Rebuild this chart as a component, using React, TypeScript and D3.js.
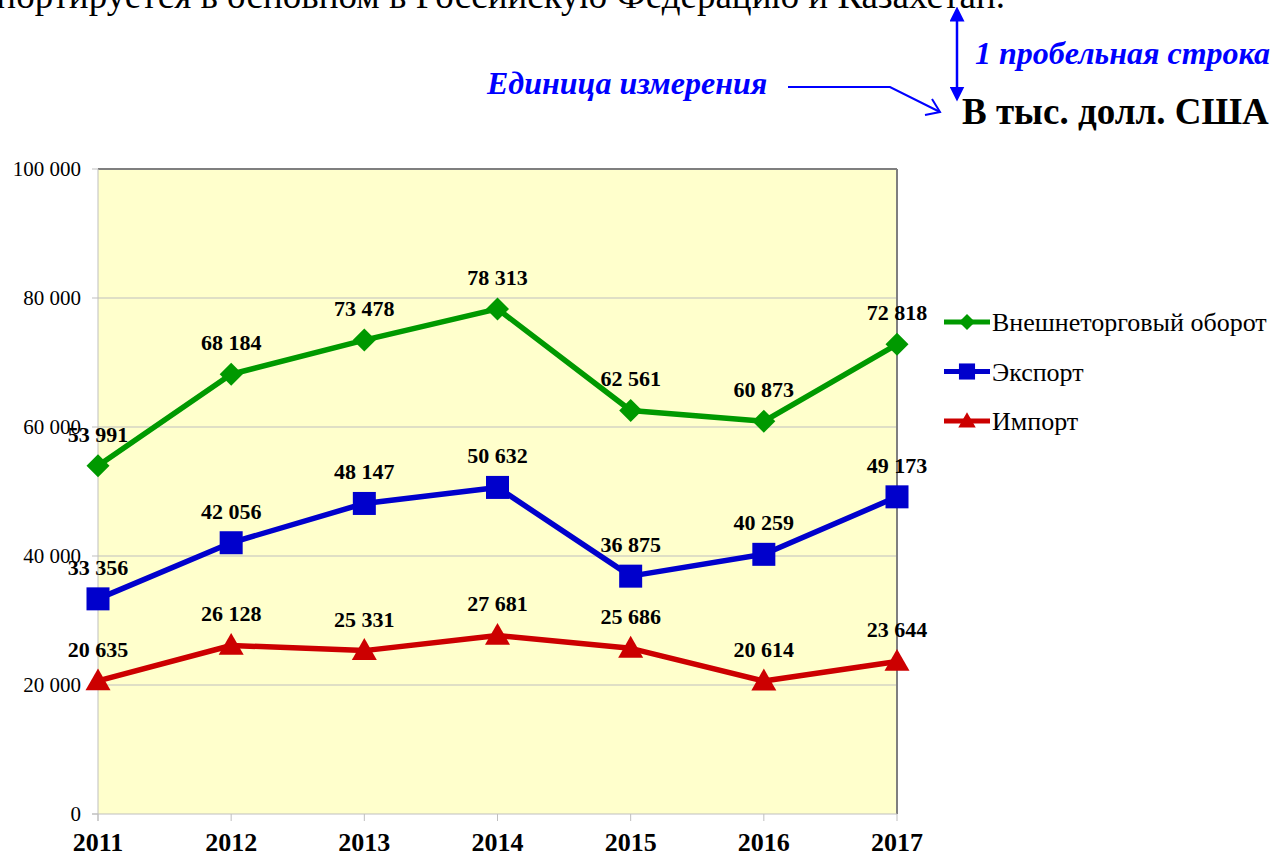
import React from "react";
import * as d3 from "d3";

const years = ["2011", "2012", "2013", "2014", "2015", "2016", "2017"];
const turnover = [53991, 68184, 73478, 78313, 62561, 60873, 72818];
const exportVals = [33356, 42056, 48147, 50632, 36875, 40259, 49173];
const importVals = [20635, 26128, 25331, 27681, 25686, 20614, 23644];
const yTicks = [0, 20000, 40000, 60000, 80000, 100000];
const seriesNames = ["Внешнеторговый оборот", "Экспорт", "Импорт"];

const W = 1273;
const H = 854;
const left = 98, right = 897, top = 169, bottom = 814;

const fmt = (v: number) => d3.format(",")(v).replace(/,/g, " ");

export default function App() {
  const x = d3.scalePoint<string>().domain(years).range([left, right]);
  const y = d3.scaleLinear().domain([0, 100000]).range([bottom, top]);

  const series = [
    { name: seriesNames[0], values: turnover, color: "#009900", marker: "diamond" },
    { name: seriesNames[1], values: exportVals, color: "#0000CC", marker: "square" },
    { name: seriesNames[2], values: importVals, color: "#CC0000", marker: "triangle" },
  ];

  const line = d3
    .line<number>()
    .x((_, i) => x(years[i]) as number)
    .y((d) => y(d));

  const marker = (type: string, cx: number, cy: number, color: string, s = 1) => {
    if (type === "diamond") {
      const r = 11.5 * s;
      return <path d={`M${cx},${cy - r}L${cx + r},${cy}L${cx},${cy + r}L${cx - r},${cy}Z`} fill={color} />;
    }
    if (type === "square") {
      const r = 11.5 * s;
      return <rect x={cx - r} y={cy - r} width={2 * r} height={2 * r} fill={color} />;
    }
    const r = 12.5 * s;
    return <path d={`M${cx},${cy - r}L${cx + r},${cy + r * 0.75}L${cx - r},${cy + r * 0.75}Z`} fill={color} />;
  };

  const serif = "'Liberation Serif', 'Times New Roman', serif";

  return (
    <svg width={W} height={H} style={{ position: "absolute", left: 0, top: 0, display: "block" }}>
      <defs>
        <marker id="ahFill" viewBox="0 0 10 10" refX="5" refY="5" markerWidth="6" markerHeight="6" orient="auto-start-reverse">
          <path d="M0,0L10,5L0,10Z" fill="#0000FF" />
        </marker>
      </defs>
      <rect x={0} y={0} width={W} height={H} fill="#fff" />
      {/* top cut-off paragraph text */}
      <text x={1005} y={8} textAnchor="end" fontFamily={serif} fontSize={37} fill="#000">
        экспортируется в основном в Российскую Федерацию и Казахстан.
      </text>
      {/* annotations */}
      <line x1={957} y1={14} x2={957} y2={94} stroke="#0000FF" strokeWidth={2.5}
        markerStart="url(#ahFill)" markerEnd="url(#ahFill)" />
      <text x={975} y={64} fontFamily={serif} fontSize={32} fontWeight="bold" fontStyle="italic" fill="#0000FF">
        1 пробельная строка
      </text>
      <text x={487} y={94} fontFamily={serif} fontSize={32} fontWeight="bold" fontStyle="italic" fill="#0000FF">
        Единица измерения
      </text>
      <polyline points="788,87 890,87 940,112" fill="none" stroke="#0000FF" strokeWidth={2} />
      <polyline points="925,115 940,112 932,99" fill="none" stroke="#0000FF" strokeWidth={2} />
      <text x={962} y={124} fontFamily={serif} fontSize={37} fontWeight="bold" fill="#000">
        В тыс. долл. США
      </text>

      {/* plot area */}
      <rect x={left} y={top} width={right - left} height={bottom - top} fill="#FFFFCC" />
      {yTicks.slice(1).map((t) => (
        <line key={t} x1={left} x2={right} y1={y(t)} y2={y(t)} stroke="#BFBFBF" strokeWidth={1} />
      ))}
      <line x1={left} x2={right} y1={top} y2={top} stroke="#7F7F7F" strokeWidth={2} />
      <line x1={right} x2={right} y1={top} y2={bottom} stroke="#7F7F7F" strokeWidth={2} />
      <line x1={left} x2={left} y1={top} y2={bottom + 7} stroke="#BFBFBF" strokeWidth={1} />
      <line x1={left - 6} x2={right} y1={bottom} y2={bottom} stroke="#BFBFBF" strokeWidth={1} />
      {yTicks.map((t) => (
        <g key={t}>
          <line x1={left - 6} x2={left} y1={y(t)} y2={y(t)} stroke="#BFBFBF" />
          <text x={81} y={y(t) + 7} textAnchor="end" fontFamily={serif} fontSize={21} fill="#000">
            {fmt(t)}
          </text>
        </g>
      ))}
      {years.map((yr) => (
        <g key={yr}>
          <line x1={x(yr)} x2={x(yr)} y1={bottom} y2={bottom + 7} stroke="#BFBFBF" />
          <text x={x(yr)} y={851} textAnchor="middle" fontFamily={serif} fontSize={26} fontWeight="bold" fill="#000">
            {yr}
          </text>
        </g>
      ))}

      {series.map((s) => (
        <g key={s.name}>
          <path d={line(s.values) || ""} fill="none" stroke={s.color} strokeWidth={5.5} strokeLinejoin="round" />
          {s.values.map((v, i) => (
            <g key={i}>{marker(s.marker, x(years[i]) as number, y(v), s.color)}</g>
          ))}
          {s.values.map((v, i) => (
            <text key={"l" + i} x={x(years[i])} y={y(v) - 24} textAnchor="middle" fontFamily={serif}
              fontSize={22} fontWeight="bold" fill="#000">
              {fmt(v)}
            </text>
          ))}
        </g>
      ))}

      {/* legend */}
      {series.map((s, i) => {
        const ly = 322 + i * 49.5;
        return (
          <g key={"lg" + i}>
            <line x1={944} x2={990} y1={ly} y2={ly} stroke={s.color} strokeWidth={5} />
            {marker(s.marker, 967, ly, s.color, 0.7)}
            <text x={992} y={ly + 9} fontFamily={serif} fontSize={26} fill="#000">
              {s.name}
            </text>
          </g>
        );
      })}
    </svg>
  );
}
